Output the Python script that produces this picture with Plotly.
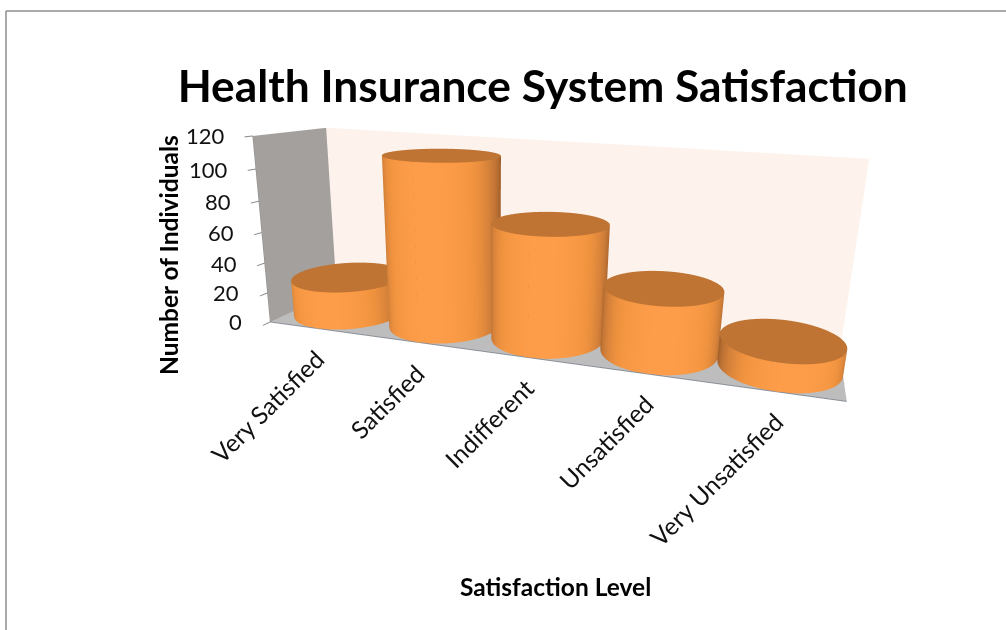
import numpy as np
import plotly.graph_objects as go

categories = ["Very Satisfied", "Satisfied", "Indifferent", "Unsatisfied", "Very Unsatisfied"]
values = [25, 111, 74, 41, 17]
z_ticks = [0, 20, 40, 60, 80, 100, 120]
title_text = "Health Insurance System Satisfaction"
x_title = "Satisfaction Level"
y_title = "Number of Individuals"

RADIUS = 0.5
SIDE_SCALE = [[0, "#a2602a"], [0.35, "#c97a38"], [0.7, "#f0933f"], [1, "#ff9e4a"]]
CAP_COLOR = "#bf7433"
LIGHT = dict(ambient=1, diffuse=0, specular=0, roughness=1, fresnel=0)
NO_CONTOURS = dict(x=dict(show=False, highlight=False), y=dict(show=False, highlight=False),
                   z=dict(show=False, highlight=False))

fig = go.Figure()
facing = np.arctan2(-1.75, 0.4)
theta = np.linspace(facing + np.pi, facing + 3 * np.pi, 161)
for i, v in enumerate(values):
    tt = np.tile(theta, (2, 1))
    X = i + RADIUS * np.cos(tt)
    Y = RADIUS * np.sin(tt)
    Z = np.array([[0] * theta.size, [v] * theta.size], float)
    shade = np.clip(np.cos(tt - facing), 0, 1)
    fig.add_trace(go.Surface(x=X, y=Y, z=Z, surfacecolor=shade, cmin=-0.02, cmax=1.02,
                             colorscale=SIDE_SCALE, showscale=False, lighting=LIGHT, hoverinfo="skip",
                             contours=NO_CONTOURS))
    rr = np.array([0, RADIUS])
    capx = i + np.outer(rr, np.cos(theta))
    capy = np.outer(rr, np.sin(theta))
    capz = np.full(capx.shape, float(v))
    fig.add_trace(go.Surface(x=capx, y=capy, z=capz, surfacecolor=np.zeros(capx.shape),
                             colorscale=[[0, CAP_COLOR], [1, CAP_COLOR]], showscale=False,
                             lighting=LIGHT, hoverinfo="skip", contours=NO_CONTOURS))

annots = [dict(x=i, y=-0.5, z=0, text=c, textangle=-45, showarrow=False, xanchor="right", yanchor="top",
               xshift=14, yshift=-13, font=dict(family="Lato", size=24.5, color="#111111")) for i, c in enumerate(categories)]
annots += [dict(x=-0.5, y=-0.5, z=t, text=str(t), showarrow=False, xanchor="right", yanchor="middle",
                xshift=-26, font=dict(family="Lato", size=22, color="#111111")) for t in z_ticks]

hidden = dict(showgrid=False, zeroline=False, showticklabels=False, ticks="", title="", showspikes=False)
fig.update_layout(
    width=1006, height=630, margin=dict(l=0, r=0, t=0, b=0), paper_bgcolor="white", showlegend=False,
    font=dict(family="Lato", color="#000000"),
    title=dict(text="<b>%s</b>" % title_text, x=0.5395, xanchor="center", y=0.863, yanchor="middle",
               font=dict(family="Lato", size=44.3, color="#000000")),
    scene=dict(
        dragmode="orbit",
        domain=dict(x=[114 / 1006, 1], y=[0, 1]),
        aspectmode="manual", aspectratio=dict(x=1.5, y=0.3285, z=0.5),
        camera=dict(eye=dict(x=0.5675, y=-1.8387, z=0.4377), center=dict(x=0.0465, y=-0.0511, z=-0.1674),
                    up=dict(x=-0.03, y=0, z=1), projection=dict(type="perspective")),
        xaxis=dict(range=[-0.5, 4.5], showbackground=True, backgroundcolor="#a3a09e", showline=True,
                   linecolor="#8a9098", linewidth=2, **hidden),
        yaxis=dict(range=[-0.5, 0.5], showbackground=True, backgroundcolor="#fdf2ec", showline=False, **hidden),
        zaxis=dict(range=[0, 120], tickvals=z_ticks, ticktext=[str(t) for t in z_ticks], showticklabels=False,
                   ticks="outside", ticklen=8, tickcolor="#8a8a8a", tickwidth=2,
                   showgrid=False, zeroline=False, title="", showspikes=False, showline=True, linecolor="#8a8a8a",
                   showbackground=True, backgroundcolor="#bdbdbd"),
        annotations=annots,
    ),
    annotations=[
        dict(text="<b>%s</b>" % x_title, x=555 / 1006, y=1 - 586 / 630, xref="paper", yref="paper", showarrow=False,
             xanchor="center", yanchor="middle", font=dict(family="Lato", size=24.5, color="#000000")),
        dict(text="<b>%s</b>" % y_title, x=168 / 1006, y=1 - 255 / 630, xref="paper", yref="paper", textangle=-90,
             xanchor="center", yanchor="middle", showarrow=False, font=dict(family="Lato", size=24.5, color="#000000")),
    ],
    shapes=[dict(type="line", xref="paper", yref="paper", x0=6 / 1006, x1=1, y0=1 - 11 / 630, y1=1 - 11 / 630,
                 line=dict(color="#8c8c8c", width=1.5)),
            dict(type="line", xref="paper", yref="paper", x0=6 / 1006, x1=6 / 1006, y0=0, y1=1 - 11 / 630,
                 line=dict(color="#8c8c8c", width=1.5))],
)
fig.write_html("out.html", post_script="document.body.style.margin='0';", config=dict(displayModeBar=False))
